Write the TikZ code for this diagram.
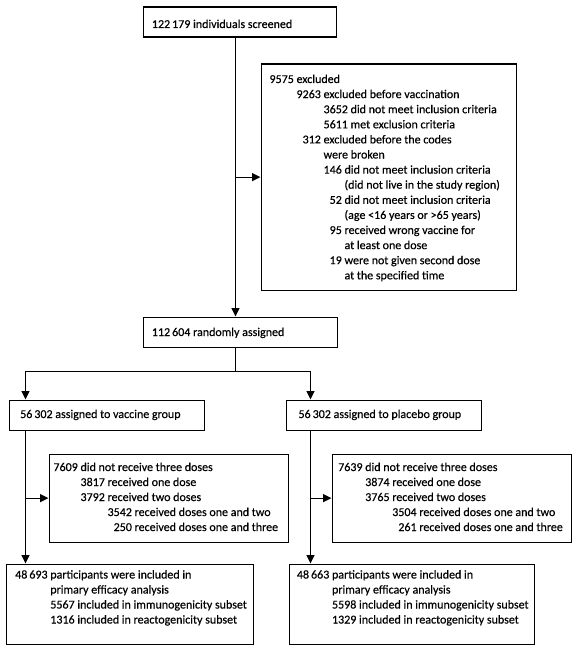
\documentclass[tikz,border=0pt]{standalone}
\usepackage{fontspec}
\setmainfont[FakeBold=0.4]{Carlito}
\usetikzlibrary{arrows.meta}
\begin{document}
\begin{tikzpicture}[x=1pt,y=-1pt,
  box/.style={draw, line width=1.2pt, inner sep=0pt, anchor=north west},
  txt/.style={anchor=base west, inner sep=0pt, font=\fontsize{12}{15}\selectfont},
  conn/.style={line width=1.2pt},
  arr/.style={line width=1.2pt, -{Triangle[length=8.5pt,width=8pt]}}]
\useasboundingbox[fill=white] (0,0) rectangle (580,650);
% boxes
\node[box, minimum width=193pt, minimum height=30pt] (screened) at (142.5,6.5) {};
\node[box, minimum width=255pt, minimum height=226pt] (excl) at (260.5,63.5) {};
\node[box, minimum width=194pt, minimum height=30pt] (rand) at (142.5,316.5) {};
\node[box, minimum width=195pt, minimum height=30pt] (vacc) at (8.5,399.5) {};
\node[box, minimum width=195pt, minimum height=30pt] (plac) at (285.5,399.5) {};
\node[box, minimum width=239pt, minimum height=88pt] (doseL) at (48.5,453.5) {};
\node[box, minimum width=239pt, minimum height=88pt] (doseR) at (331.5,453.5) {};
\node[box, minimum width=247pt, minimum height=80pt] (finL) at (5.5,563.5) {};
\node[box, minimum width=245pt, minimum height=80pt] (finR) at (288.5,563.5) {};
% helper coordinates for connector columns
\coordinate (spine) at (235.5,0);
\coordinate (lx) at (25.5,0);
\coordinate (rx) at (310.5,0);
\coordinate (split) at (235.5,371.5);
% texts
\node[txt] (t1) at (151.7,28) {122\,179 individuals screened};
\node[txt] (t2) at (151.7,336) {112\,604 randomly assigned};
\node[txt] (t3) at (20,418) {56\,302 assigned to vaccine group};
\node[txt] (t4) at (298.3,418) {56\,302 assigned to placebo group};
% exclusion box
\node[txt] (e0) at (269.3,83) {9575 excluded};
\node[txt] (e1) at (269.3,98.1) {\hphantom{9575 }9263 excluded before vaccination};
\node[txt] (e2) at (269.3,113.2) {\hphantom{9575 9263 }3652 did not meet inclusion criteria};
\node[txt] (e3) at (269.3,128.3) {\hphantom{9575 9263 }5611 met exclusion criteria};
\node[txt] (e4) at (269.3,143.4) {\hphantom{9575 }\hphantom{9263}\llap{312} excluded before the codes};
\node[txt] (e5) at (269.3,158.5) {\hphantom{9575 9263 }were broken};
\node[txt] (e6) at (269.3,173.6) {\hphantom{9575 9263 }146 did not meet inclusion criteria};
\node[txt] (e7) at (269.3,188.7) {\hphantom{9575 9263 146 }(did not live in the study region)};
\node[txt] (e8) at (269.3,203.8) {\hphantom{9575 9263 }\hphantom{146}\llap{52} did not meet inclusion criteria};
\node[txt] (e9) at (269.3,218.9) {\hphantom{9575 9263 146 }(age <16 years or >65 years)};
\node[txt] (e10) at (269.3,234.0) {\hphantom{9575 9263 }\hphantom{146}\llap{95} received wrong vaccine for};
\node[txt] (e11) at (269.3,249.1) {\hphantom{9575 9263 146 }at least one dose};
\node[txt] (e12) at (269.3,264.2) {\hphantom{9575 9263 }\hphantom{146}\llap{19} were not given second dose};
\node[txt] (e13) at (269.3,279.3) {\hphantom{9575 9263 146 }at the specified time};
% vaccine doses
\node[txt] (dl0) at (53.3,471) {7609 did not receive three doses};
\node[txt] (dl1) at (53.3,486) {\hphantom{7609 }3817 received one dose};
\node[txt] (dl2) at (53.3,501) {\hphantom{7609 }3792 received two doses};
\node[txt] (dl3) at (53.3,516) {\hphantom{7609 3792 }3542 received doses one and two};
\node[txt] (dl4) at (53.3,531) {\hphantom{7609 3792 }\hphantom{3542}\llap{250} received doses one and three};
% placebo doses
\node[txt] (dr0) at (338,471) {7639 did not receive three doses};
\node[txt] (dr1) at (338,486) {\hphantom{7639 }3874 received one dose};
\node[txt] (dr2) at (338,501) {\hphantom{7639 }3765 received two doses};
\node[txt] (dr3) at (338,516) {\hphantom{7639 3765 }3504 received doses one and two};
\node[txt] (dr4) at (338,531) {\hphantom{7639 3765 }\hphantom{3504}\llap{261} received doses one and three};
% final boxes
\node[txt] (fl0) at (15,578.5) {48\,693 participants were included in};
\node[txt] (fl1) at (15,593.5) {\hphantom{48\,693 }primary efficacy analysis};
\node[txt] (fl2) at (15,608.5) {\hphantom{48\,693 }5567 included in immunogenicity subset};
\node[txt] (fl3) at (15,623.5) {\hphantom{48\,693 }1316 included in reactogenicity subset};
\node[txt] (fr0) at (296.7,578.5) {48\,663 participants were included in};
\node[txt] (fr1) at (296.7,593.5) {\hphantom{48\,663 }primary efficacy analysis};
\node[txt] (fr2) at (296.7,608.5) {\hphantom{48\,663 }5598 included in immunogenicity subset};
\node[txt] (fr3) at (296.7,623.5) {\hphantom{48\,663 }1329 included in reactogenicity subset};
% connectors
\draw[arr] (screened.south -| spine) -- (rand.north -| spine);
\draw[arr] (excl.west -| spine) -- (excl.west);
\draw[conn] (rand.south -| spine) -- (split);
\draw[arr] (split) -| (vacc.north -| lx);
\draw[arr] (split) -| (plac.north -| rx);
\draw[arr] (vacc.south -| lx) -- (finL.north -| lx);
\draw[arr] (doseL.west -| lx) -- (doseL.west);
\draw[arr] (plac.south -| rx) -- (finR.north -| rx);
\draw[arr] (doseR.west -| rx) -- (doseR.west);
\end{tikzpicture}
\end{document}
